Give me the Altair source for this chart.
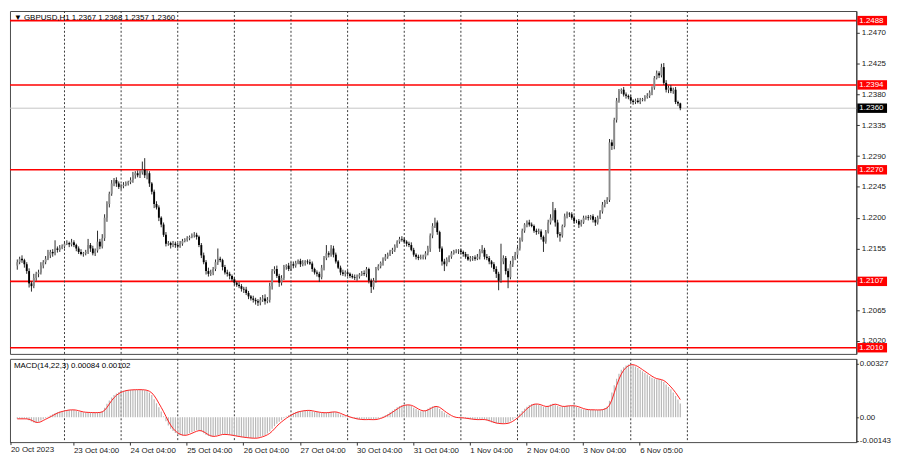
import altair as alt
import pandas as pd

FONT = "Liberation Sans"
BASE = 1.2  # prices below are stored as pips above 1.2000

# ---- H1 closes, pips above 1.2000, one line per trading day ----
close_pips = [
    135, 140, 138, 132, 122, 104, 100, 112, 118, 120, 130, 135, 140, 145, 150, 148, 155, 153, 156, 158,
    162, 163, 161, 164, 160, 155, 150, 147, 148, 150, 160, 155, 148, 152, 165, 158, 170, 200, 220, 235, 250, 255, 250, 245,
    246, 248, 250, 252, 255, 262, 265, 262, 266, 270, 262, 265, 250, 238, 220, 215, 200, 190, 175, 162, 163, 160, 162, 160,
    158, 162, 166, 168, 170, 172, 174, 175, 172, 160, 145, 135, 122, 118, 120, 125, 135, 140, 138, 128, 120, 118, 115, 110,
    105, 102, 100, 96, 95, 90, 85, 82, 80, 78, 76, 80, 82, 78, 80, 100, 122, 125, 115, 105, 112, 128, 130, 125,
    132, 130, 134, 137, 132, 134, 136, 135, 133, 125, 120, 118, 113, 127, 141, 148, 146, 155, 146, 136, 127, 120, 118, 120,
    118, 115, 113, 112, 114, 117, 119, 118, 125, 108, 99, 108, 125, 129, 134, 139, 143, 146, 151, 153, 158, 165, 169, 168,
    165, 162, 160, 153, 146, 143, 141, 142, 143, 148, 155, 174, 188, 193, 179, 155, 136, 132, 139, 143, 148, 151, 151, 152,
    150, 147, 143, 139, 141, 142, 140, 143, 151, 153, 143, 141, 136, 132, 125, 118, 108, 136, 141, 122, 113, 132, 141, 146,
    155, 167, 181, 190, 193, 190, 188, 181, 179, 180, 172, 165, 179, 193, 200, 211, 193, 176, 174, 188, 202, 206, 205, 200,
    195, 195, 190, 193, 200, 201, 200, 202, 197, 193, 200, 209, 219, 223, 226, 310, 305, 343, 371, 385, 387, 380, 378, 376,
    371, 369, 371, 369, 372, 373, 376, 378, 383, 390, 404, 411, 408, 420, 397, 387, 390, 385, 387, 369, 367, 360,
]
first_open_pips = 130

# upper / lower wick lengths in pips beyond the candle body
up_wick = [
    4, 3, 5, 2, 3, 4, 3, 6, 3, 4, 5, 3, 4, 8, 3, 4, 12, 3, 4, 3,
    3, 4, 2, 5, 3, 2, 3, 4, 2, 3, 9, 3, 4, 3, 16, 4, 6, 5, 4, 3, 5, 3, 4, 3,
    3, 4, 3, 2, 4, 5, 3, 4, 3, 12, 17, 4, 3, 2, 3, 4, 3, 2, 3, 4, 3, 2, 4, 3,
    3, 4, 3, 2, 3, 2, 3, 4, 3, 2, 3, 4, 3, 5, 4, 3, 4, 15, 3, 2, 3, 4, 3, 2,
    3, 2, 4, 3, 3, 4, 3, 2, 4, 3, 3, 4, 5, 6, 4, 5, 3, 4, 5, 3, 4, 3, 2, 4,
    3, 4, 3, 2, 3, 4, 2, 3, 4, 3, 2, 3, 3, 4, 3, 12, 3, 5, 4, 3, 2, 3, 4, 3,
    3, 2, 3, 4, 3, 2, 3, 4, 3, 2, 3, 4, 3, 3, 2, 3, 4, 3, 2, 3, 3, 2, 3, 4,
    3, 2, 3, 4, 3, 2, 3, 4, 3, 3, 4, 3, 4, 7, 3, 2, 3, 4, 3, 2, 3, 2, 3, 2,
    3, 2, 3, 4, 3, 2, 3, 4, 3, 7, 3, 4, 3, 2, 3, 4, 3, 26, 4, 3, 4, 5, 3, 4,
    3, 4, 3, 2, 3, 4, 3, 2, 3, 4, 3, 2, 3, 4, 5, 12, 3, 4, 3, 2, 4, 3, 2, 3,
    3, 2, 3, 4, 3, 2, 3, 2, 3, 4, 3, 2, 4, 3, 4, 5, 4, 3, 4, 3, 2, 4, 3, 2,
    3, 2, 3, 4, 3, 2, 3, 4, 3, 2, 3, 4, 3, 5, 6, 4, 3, 4, 3, 4, 2, 1,
]
dn_wick = [
    6, 3, 4, 5, 4, 6, 8, 3, 4, 5, 3, 4, 3, 2, 4, 5, 3, 4, 3, 2,
    3, 2, 4, 3, 3, 4, 3, 2, 4, 3, 3, 5, 3, 4, 3, 4, 3, 4, 6, 5, 3, 4, 5, 3,
    4, 3, 2, 3, 3, 4, 5, 3, 4, 3, 4, 6, 5, 4, 6, 3, 5, 4, 3, 4, 3, 5, 3, 4,
    3, 2, 3, 2, 3, 3, 2, 3, 4, 3, 4, 3, 5, 4, 3, 4, 3, 4, 3, 5, 3, 4, 5, 3,
    4, 3, 3, 4, 5, 3, 4, 3, 4, 5, 5, 4, 3, 5, 3, 4, 5, 4, 3, 6, 4, 3, 4, 3,
    3, 4, 3, 2, 4, 3, 4, 3, 2, 4, 3, 4, 7, 3, 4, 3, 4, 3, 4, 3, 2, 4, 3, 4,
    4, 3, 2, 3, 4, 3, 2, 3, 5, 4, 9, 4, 3, 2, 3, 4, 2, 3, 2, 4, 3, 2, 3, 3,
    3, 4, 3, 2, 3, 4, 3, 2, 3, 4, 3, 5, 4, 3, 4, 5, 6, 10, 3, 4, 3, 2, 3, 4,
    3, 4, 3, 2, 3, 4, 3, 2, 4, 3, 4, 3, 4, 5, 4, 6, 14, 3, 4, 5, 16, 3, 4, 3,
    4, 3, 2, 3, 4, 3, 2, 3, 4, 3, 4, 15, 3, 2, 3, 4, 6, 5, 9, 3, 2, 3, 4, 3,
    4, 3, 5, 3, 2, 3, 4, 3, 4, 5, 3, 2, 3, 4, 3, 3, 6, 5, 4, 3, 4, 3, 4, 3,
    3, 4, 3, 2, 3, 2, 3, 2, 3, 4, 3, 2, 4, 3, 3, 4, 5, 3, 4, 3, 4, 3,
]

# MACD main line in units of 0.00001, one line per trading day
macd_e5 = [
    -10, -10, -10, -10, -11, -18, -26, -33, -35, -28, -20, -12, -6, 2, 10, 18, 25, 31, 35, 38,
    42, 44, 45, 45, 44, 40, 35, 32, 30, 29, 29, 28, 27, 28, 29, 30, 38, 58, 82, 102, 120, 135, 145, 152,
    158, 162, 165, 166, 167, 168, 168, 168, 168, 167, 165, 160, 150, 135, 110, 85, 60, 35, 5, -25, -50, -70, -85, -97,
    -105, -110, -112, -110, -105, -98, -92, -86, -80, -80, -88, -98, -108, -115, -118, -118, -114, -108, -105, -104, -106, -108, -109, -112,
    -115, -118, -120, -122, -124, -126, -127, -128, -129, -128, -124, -120, -114, -108, -100, -88, -70, -55, -40, -28, -18, -6, 4, 12,
    20, 27, 32, 36, 38, 40, 42, 42, 40, 36, 33, 31, 28, 27, 27, 28, 30, 33, 33, 30, 24, 17, 11, 6,
    2, -3, -7, -10, -13, -14, -15, -15, -14, -14, -16, -15, -12, -8, -3, 4, 12, 20, 30, 40, 50, 60, 68, 73,
    75, 76, 74, 68, 58, 50, 42, 37, 38, 42, 52, 60, 66, 68, 62, 50, 38, 28, 18, 10, 2, -2, -3, -3,
    -4, -6, -8, -10, -12, -14, -15, -15, -14, -14, -16, -20, -26, -32, -36, -38, -40, -40, -40, -38, -34, -26, -15, -5,
    8, 22, 38, 52, 64, 74, 80, 82, 80, 76, 70, 64, 63, 70, 78, 82, 78, 70, 64, 65, 68, 70, 70, 70,
    68, 64, 58, 52, 48, 46, 45, 45, 45, 44, 44, 45, 48, 56, 66, 100, 150, 195, 235, 265, 290, 305, 315, 322,
    322, 318, 310, 300, 290, 280, 270, 260, 250, 240, 235, 232, 230, 226, 215, 200, 185, 170, 150, 130, 108, 84,
]

level_prices = [1.2488, 1.2394, 1.2270, 1.2107, 1.2010]
level_labels = ["1.2488", "1.2394", "1.2270", "1.2107", "1.2010"]
last_price = [1.2360]
last_label = ["1.2360"]
price_ticks = [1.2020, 1.2065, 1.2110, 1.2155, 1.2200, 1.2245, 1.2290, 1.2335, 1.2380, 1.2425, 1.2470]
macd_ticks = [0.00327, 0.0, -0.00143]
macd_tick_labels = ["0.00327", "0.00", "-0.00143"]
grid_bars = [20, 44, 68, 92, 116, 140, 164, 188, 212, 236, 260, 284]
first_time_label = ["20 Oct 2023"]
time_label_bars = [20, 44, 68, 92, 116, 140, 164, 188, 212, 236, 260]
time_labels = ["23 Oct 04:00", "24 Oct 04:00", "25 Oct 04:00", "26 Oct 04:00",
               "27 Oct 04:00", "30 Oct 04:00", "31 Oct 04:00", "1 Nov 04:00", "2 Nov 04:00",
               "3 Nov 04:00", "6 Nov 05:00"]
title_text = ["\u25BC GBPUSD,H1  1.2367 1.2368 1.2357 1.2360"]
macd_text = ["MACD(14,22,3) 0.00084 0.00102"]

# ---- tables ----
opens = [first_open_pips] + close_pips[:-1]
rows = []
for i, c in enumerate(close_pips):
    o = opens[i]
    rows.append({
        "bar": i,
        "open": BASE + o / 10000,
        "close": BASE + c / 10000,
        "high": BASE + (max(o, c) + up_wick[i]) / 10000,
        "low": BASE + (min(o, c) - dn_wick[i]) / 10000,
        "macd": macd_e5[i] / 100000,
        "zero": 0.0,
    })
candles = pd.DataFrame(rows)
levels_df = pd.DataFrame({"price": level_prices, "label": level_labels})
last_df = pd.DataFrame({"price": last_price, "label": last_label})
grid_df = pd.DataFrame({"bar": grid_bars})
title_df = pd.DataFrame({"t": title_text})
macd_text_df = pd.DataFrame({"t": macd_text})
first_lbl_df = pd.DataFrame({"t": first_time_label})


def ternary(values, labels):
    expr = "''"
    for v, l in reversed(list(zip(values, labels))):
        expr = f"datum.value == {v} ? '{l}' : {expr}"
    return expr


W, H1, H2 = 854, 346, 84
x_scale = alt.Scale(domain=[-1, 353.5], nice=False, zero=False)
y_scale = alt.Scale(domain=[1.2001, 1.2502], nice=False, zero=False)
m_scale = alt.Scale(domain=[-0.00152, 0.00356], nice=False, zero=False)

y_axis = alt.Axis(orient="right", values=price_ticks, format=".4f", title=None, grid=False,
                  tickSize=3, tickColor="#333333", domainColor="#333333", labelColor="#1a1a1a",
                  labelFont=FONT, labelFontSize=8, labelPadding=2)
x_hidden = alt.Axis(labels=False, ticks=False, domain=False, grid=False, title=None)


def Xm(field="bar:Q"):
    return alt.X(field, scale=x_scale, axis=x_hidden)


def Ym(field):
    return alt.Y(field, scale=y_scale, axis=y_axis)


grid = alt.Chart(grid_df).mark_rule(color="#3a3a3a", strokeDash=[2, 2], strokeWidth=1).encode(x=Xm())

levels = alt.Chart(levels_df).mark_rule(color="#ff0000", strokeWidth=1.6).encode(y=Ym("price:Q"))
last_line = alt.Chart(last_df).mark_rule(color="#c4c4c4", strokeWidth=1).encode(y=Ym("price:Q"))

wicks = alt.Chart(candles).mark_rule(color="#2a2a2a", strokeWidth=1).encode(
    x=Xm(), y=Ym("low:Q"), y2="high:Q")
bodies = alt.Chart(candles).mark_bar(size=1.9).encode(
    x=Xm(), y=Ym("open:Q"), y2="close:Q",
    color=alt.condition("datum.close >= datum.open", alt.value("#8a8a8a"), alt.value("#000000")))

level_box = alt.Chart(levels_df).mark_tick(orient="horizontal", size=30, thickness=9.5,
                                           color="#ff0000", opacity=1).encode(
    x=alt.value(W + 16), y=Ym("price:Q"))
level_txt = alt.Chart(levels_df).mark_text(align="left", baseline="middle", color="white",
                                           font=FONT, fontSize=8).encode(
    x=alt.value(W + 3), y=Ym("price:Q"), text="label:N")
last_box = alt.Chart(last_df).mark_tick(orient="horizontal", size=30, thickness=9.5,
                                        color="#000000", opacity=1).encode(
    x=alt.value(W + 16), y=Ym("price:Q"))
last_txt = alt.Chart(last_df).mark_text(align="left", baseline="middle", color="white",
                                        font=FONT, fontSize=8).encode(
    x=alt.value(W + 3), y=Ym("price:Q"), text="label:N")
title = alt.Chart(title_df).mark_text(align="left", baseline="middle", color="#000000",
                                      font=FONT, fontSize=8).encode(
    x=alt.value(4), y=alt.value(7), text="t:N")

main = alt.layer(levels, grid, last_line, wicks, bodies, level_box, level_txt,
                 last_box, last_txt, title).properties(width=W, height=H1)

# ---- MACD panel ----
x_axis = alt.Axis(values=time_label_bars, labelExpr=ternary(time_label_bars, time_labels),
                  title=None, grid=False, ticks=True, tickSize=3, tickOffset=9, tickColor="#333333",
                  domain=False, labelAlign="left", labelOffset=0,
                  labelFlush=False, labelOverlap=False, labelFont=FONT, labelFontSize=8,
                  labelColor="#1a1a1a", labelPadding=1)
m_axis = alt.Axis(orient="right", values=macd_ticks, labelExpr=ternary(macd_ticks, macd_tick_labels),
                  title=None, grid=False, tickSize=2, tickColor="#333333", domainColor="#333333",
                  labelColor="#1a1a1a", labelFont=FONT, labelFontSize=8, labelPadding=1)


def Xb(field="bar:Q"):
    return alt.X(field, scale=x_scale, axis=x_axis)


def Yb(field):
    return alt.Y(field, scale=m_scale, axis=m_axis)


grid2 = alt.Chart(grid_df).mark_rule(color="#3a3a3a", strokeDash=[2, 2], strokeWidth=1).encode(x=Xb())
hist = alt.Chart(candles).mark_bar(size=1.2, color="#b8b8b8").encode(
    x=Xb(), y=Yb("macd:Q"), y2="zero:Q")
signal = alt.Chart(candles).transform_window(
    signal="mean(macd)", frame=[-2, 0], sort=[alt.SortField("bar")]
).mark_line(color="#ff2020", strokeWidth=1).encode(x=Xb(), y=Yb("signal:Q"))
mtitle = alt.Chart(macd_text_df).mark_text(align="left", baseline="middle", color="#000000",
                                           font=FONT, fontSize=8).encode(
    x=alt.value(4), y=alt.value(7), text="t:N")
first_lbl = alt.Chart(first_lbl_df).mark_text(align="left", baseline="top", color="#1a1a1a",
                                              font=FONT, fontSize=8).encode(
    x=alt.value(1), y=alt.value(H2 + 4), text="t:N")
first_tick = alt.Chart(first_lbl_df).mark_rule(color="#333333", strokeWidth=1).encode(
    x=alt.value(1), y=alt.value(H2), y2=alt.value(H2 + 3))

macd = alt.layer(grid2, hist, signal, mtitle, first_lbl, first_tick).properties(width=W, height=H2)

chart = alt.vconcat(main, macd, spacing=3).properties(
    padding={"left": 0, "top": 0, "right": 0, "bottom": 0}, background="white"
).configure_view(stroke="#4a4a4a", strokeWidth=1)

chart.save("out.html", embed_options={"renderer": "svg", "actions": False})
